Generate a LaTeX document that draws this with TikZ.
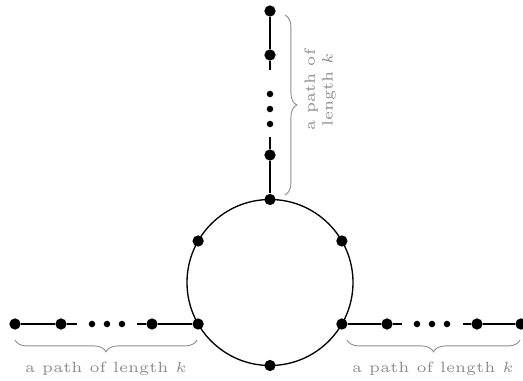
\documentclass[tikz,border=0pt]{standalone}
\usetikzlibrary{decorations.pathreplacing}
\begin{document}
\begin{tikzpicture}[x=0.3375pt, y=0.3375pt, line width=0.55pt,
   vertex_style/.style={circle, fill=black, inner sep=0pt, minimum size=3.8pt},
   dot_style/.style={circle, fill=black, inner sep=0pt, minimum size=2.2pt},
   brace_style/.style={draw=black!45, line width=0.3pt, decorate, decoration={brace, amplitude=4pt}},
   label_style/.style={text=black!45, font=\tiny}]
	  \useasboundingbox (0,0) rectangle (523,380);

	  % the cycle
	  \coordinate (c) at (270,97.5);
	  \draw[line width=0.45pt] (c) circle (83);
	  \foreach \name/\ang in {t/90, tl/150, bl/210, b/270, br/330, tr/30}
	    \node[vertex_style] (\name) at ([shift={(\ang:83)}]c) {};

	  % left path
	  \node[vertex_style] (l1) at (15,56) {};
	  \node[vertex_style] (l2) at (61,56) {};
	  \node[vertex_style] (l3) at (152,56) {};
	  \coordinate (l2e) at (77,56);
	  \coordinate (l3e) at (137,56);
	  \foreach \i/\x in {1/92, 2/107, 3/122}
	    \node[dot_style] (ld\i) at (\x,56) {};

	  % right path
	  \node[vertex_style] (r1) at (387,56) {};
	  \node[vertex_style] (r2) at (477,56) {};
	  \node[vertex_style] (r3) at (521,56) {};
	  \coordinate (r1e) at (402,56);
	  \coordinate (r2e) at (463,56);
	  \foreach \i/\x in {1/417, 2/432, 3/447}
	    \node[dot_style] (rd\i) at (\x,56) {};

	  % top path
	  \node[vertex_style] (u1) at (270,225) {};
	  \node[vertex_style] (u2) at (270,325) {};
	  \node[vertex_style] (u3) at (270,369) {};
	  \coordinate (u1e) at (270,243);
	  \coordinate (u2e) at (270,310);
	  \foreach \i/\y in {1/286, 2/271, 3/256}
	    \node[dot_style] (ud\i) at (270,\y) {};

	  \foreach \from/\to in {l1/l2, l2/l2e, l3e/l3, l3/bl, br/r1, r1/r1e, r2e/r2, r2/r3, t/u1, u1/u1e, u2e/u2, u2/u3}
	    \draw (\from) -- (\to);

	  % braces
	  \draw[brace_style, decoration={mirror}] (15,40) -- (197,40);
	  \node[label_style] (lt) at (106,11) {a path of length $k$};
	  \draw[brace_style, decoration={mirror}] (347,40) -- (520,40);
	  \node[label_style] (rt) at (433,11) {a path of length $k$};
	  \draw[brace_style] (285,365) -- (285,185);
	  \node[label_style, rotate=90, align=center] (ut) at (320,290) {a path of\\length $k$};

	\end{tikzpicture}
\end{document}
